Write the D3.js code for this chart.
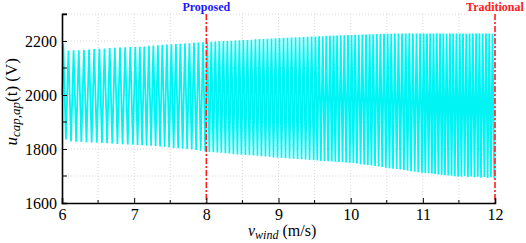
<!DOCTYPE html>
<html>
<head>
<meta charset="utf-8">
<script src="https://cdn.jsdelivr.net/npm/d3@7"></script>
<style>
  body { margin: 0; background: #fff; }
  svg { display: block; font-family: "Liberation Serif", "DejaVu Serif", serif; }
</style>
</head>
<body>
<div id="chart"></div>
<script>
// tick values
const xTicks = [6, 7, 8, 9, 10, 11, 12];
const yTicks = [1600, 1800, 2000, 2200];

// number of oscillation cycles in each 0.5 m/s stretch, 6 -> 12
const cyclesPerHalf = [7, 7, 8, 8, 9, 9, 9, 10, 10, 10, 11, 11];

// peak values (V), one per cycle
const peaks = [
  2190, 2165, 2166, 2166, 2167, 2168, 2170,
  2171, 2172, 2174, 2175, 2176, 2177, 2178,
  2178, 2179, 2180, 2182, 2183, 2184, 2186, 2187,
  2188, 2189, 2190, 2191, 2192, 2193, 2194, 2195,
  2196, 2197, 2198, 2199, 2200, 2200, 2201, 2202, 2203,
  2204, 2204, 2205, 2206, 2207, 2207, 2208, 2209, 2210,
  2211, 2212, 2212, 2213, 2214, 2214, 2215, 2216, 2217,
  2217, 2218, 2218, 2219, 2219, 2220, 2220, 2221, 2221, 2222,
  2222, 2223, 2223, 2224, 2224, 2225, 2225, 2226, 2226, 2227,
  2227, 2227, 2228, 2228, 2228, 2228, 2229, 2228, 2228, 2228,
  2228, 2227, 2228, 2228, 2229, 2228, 2228, 2227, 2228, 2228, 2228,
  2228, 2228, 2227, 2228, 2228, 2228, 2229, 2228, 2228, 2228, 2227
];

// trough values (V), one per cycle
const troughs = [
  1835, 1828, 1827, 1826, 1825, 1824, 1823,
  1822, 1821, 1820, 1819, 1818, 1817, 1816,
  1815, 1814, 1813, 1812, 1811, 1809, 1808, 1806,
  1804, 1803, 1801, 1800, 1798, 1796, 1794, 1791,
  1789, 1788, 1787, 1786, 1784, 1783, 1782, 1780, 1779,
  1778, 1777, 1776, 1775, 1773, 1772, 1771, 1769, 1768,
  1767, 1766, 1765, 1764, 1763, 1762, 1761, 1759, 1758,
  1757, 1756, 1755, 1755, 1754, 1753, 1752, 1751, 1750, 1749,
  1748, 1746, 1744, 1743, 1741, 1739, 1737, 1735, 1733, 1731,
  1729, 1727, 1726, 1724, 1722, 1720, 1718, 1716, 1714, 1712,
  1711, 1710, 1709, 1707, 1706, 1705, 1703, 1702, 1701, 1699, 1698,
  1697, 1700, 1696, 1698, 1695, 1697, 1694, 1696, 1693, 1695, 1692
];

const startValue = 2000;
const markers = [
  { x: 8, label: "Proposed", color: "#1a1aff" },
  { x: 12, label: "Traditional", color: "#ff1a1a" }
];

const W = 526, H = 243;
const margin = { top: 14, right: 31, bottom: 40, left: 62 };
const width = W - margin.left - margin.right;
const height = H - margin.top - margin.bottom;

const svg = d3.select("#chart")
  .append("svg")
    .attr("width", W)
    .attr("height", H);

const g = svg.append("g")
  .attr("transform", `translate(${margin.left},${margin.top})`);

const x = d3.scaleLinear().domain([6, 12]).range([0, width]);
const y = d3.scaleLinear().domain([1600, 2300]).range([height, 0]);

// dotted grid
const xGrid = d3.range(6.5, 12.01, 0.5);
const yGrid = d3.range(1700, 2301, 100);
g.append("g")
  .selectAll("line")
  .data(xGrid)
  .join("line")
    .attr("x1", d => x(d)).attr("x2", d => x(d))
    .attr("y1", 0).attr("y2", height)
    .attr("stroke", "#cfcfcf")
    .attr("stroke-width", 0.8)
    .attr("stroke-dasharray", "1,2");
g.append("g")
  .selectAll("line")
  .data(yGrid)
  .join("line")
    .attr("x1", 0).attr("x2", width)
    .attr("y1", d => y(d)).attr("y2", d => y(d))
    .attr("stroke", "#cfcfcf")
    .attr("stroke-width", 0.8)
    .attr("stroke-dasharray", "1,2");

// build waveform: trough / peak pairs spread over each half-unit stretch
const wave = [[6, startValue]];
let k = 0;
cyclesPerHalf.forEach((n, s) => {
  const x0 = 6 + s * 0.5;
  const step = 0.5 / n;
  for (let i = 0; i < n; i++) {
    const xs = x0 + i * step;
    wave.push([xs + step * 0.25, peaks[k]]);
    wave.push([xs + step * 0.75, troughs[k]]);
    k++;
  }
});

const line = d3.line()
  .x(d => x(d[0]))
  .y(d => y(d[1]));

g.append("path")
  .datum(wave)
  .attr("fill", "none")
  .attr("stroke", "#00f4f4")
  .attr("stroke-width", 1.8)
  .attr("stroke-linejoin", "miter")
  .attr("d", line);

// marker lines
g.selectAll(".marker")
  .data(markers)
  .join("line")
    .attr("class", "marker")
    .attr("x1", d => x(d.x)).attr("x2", d => x(d.x))
    .attr("y1", 0).attr("y2", height)
    .attr("stroke", "#ff2020")
    .attr("stroke-width", 1.6)
    .attr("stroke-dasharray", "6,2,2,2");

g.selectAll(".mlabel")
  .data(markers)
  .join("text")
    .attr("class", "mlabel")
    .attr("x", d => x(d.x))
    .attr("y", -3)
    .attr("text-anchor", "middle")
    .attr("font-weight", "bold")
    .attr("font-size", 12)
    .attr("fill", d => d.color)
    .text(d => d.label);

// axes
const xAxis = g.append("g")
  .attr("transform", `translate(0,${height})`)
  .call(d3.axisBottom(x).tickValues(xTicks).tickSize(-5).tickPadding(6).tickFormat(d3.format("d")));
xAxis.append("g")
  .selectAll("line")
  .data(d3.range(6.5, 12, 1))
  .join("line")
    .attr("x1", d => x(d)).attr("x2", d => x(d))
    .attr("y1", 0).attr("y2", -3)
    .attr("stroke", "#000");

const yAxis = g.append("g")
  .call(d3.axisLeft(y).tickValues(yTicks).tickSize(-5).tickPadding(5).tickFormat(d3.format("d")));
yAxis.append("g")
  .selectAll("line")
  .data([1700, 1900, 2100, 2300])
  .join("line")
    .attr("x1", 0).attr("x2", 5)
    .attr("y1", d => y(d)).attr("y2", d => y(d))
    .attr("stroke", "#000");

[xAxis, yAxis].forEach(a => {
  a.select(".domain").attr("stroke-width", 1.6);
  a.selectAll("text")
    .attr("font-family", "Liberation Serif, serif")
    .attr("font-size", 16)
    .attr("fill", "#000");
});

// axis titles
const xt = svg.append("text")
  .attr("x", margin.left + x(9.05))
  .attr("y", 236)
  .attr("text-anchor", "middle")
  .attr("font-size", 16);
xt.append("tspan").attr("font-style", "italic").text("v");
xt.append("tspan").attr("font-style", "italic").attr("font-size", 12).attr("dy", 3).text("wind");
xt.append("tspan").attr("dy", -3).text(" (m/s)");

const yt = svg.append("text")
  .attr("transform", `translate(17,${margin.top + y(1975)}) rotate(-90)`)
  .attr("text-anchor", "middle")
  .attr("font-size", 17);
yt.append("tspan").attr("font-style", "italic").text("u");
yt.append("tspan").attr("font-style", "italic").attr("font-size", 13).attr("dy", 3).text("cap,ap");
yt.append("tspan").attr("dy", -3).text("(t) (V)");
</script>
</body>
</html>
